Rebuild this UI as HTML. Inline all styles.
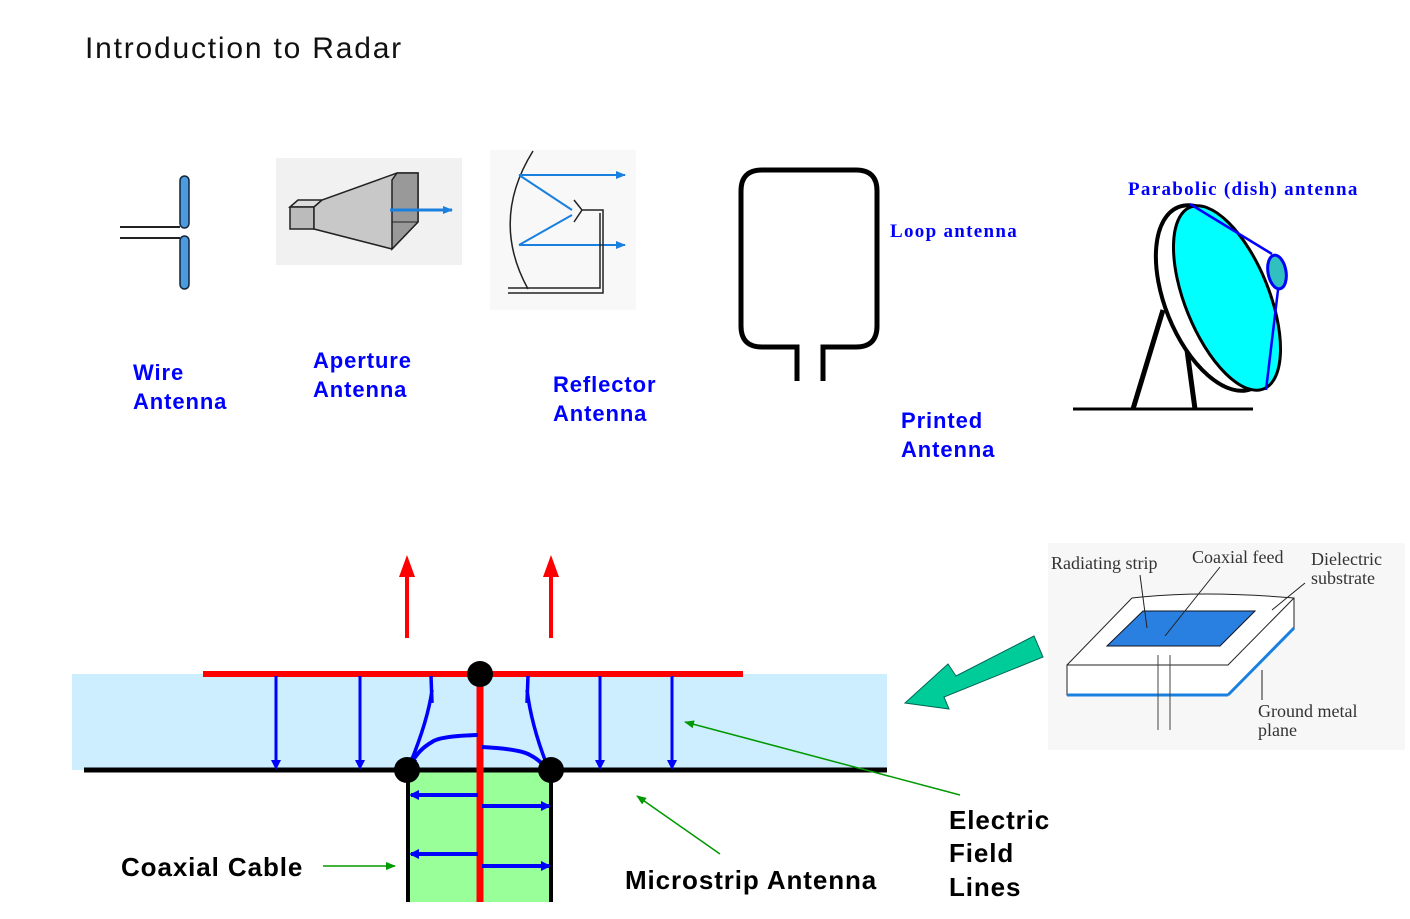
<!DOCTYPE html>
<html><head><meta charset="utf-8"><style>
html,body{margin:0;padding:0;background:#fff}
svg{display:block}
.b{font-family:"Liberation Sans",sans-serif;font-weight:bold}
.s{font-family:"Liberation Serif",serif}
</style></head><body>
<svg width="1410" height="919" viewBox="0 0 1410 919" xmlns="http://www.w3.org/2000/svg">
<defs>
<marker id="bl" markerWidth="8" markerHeight="8" refX="6" refY="4" orient="auto" markerUnits="userSpaceOnUse"><path d="M0,0 L8,4 L0,8 Z" fill="#0000ff"/></marker>
<marker id="bb" markerWidth="10" markerHeight="10" refX="8" refY="5" orient="auto" markerUnits="userSpaceOnUse"><path d="M0,0 L10,5 L0,10 Z" fill="#0000ff"/></marker>
<marker id="gr" markerWidth="10" markerHeight="8" refX="9" refY="4" orient="auto" markerUnits="userSpaceOnUse"><path d="M0,0 L10,4 L0,8 Z" fill="#009900"/></marker>
<marker id="lb" markerWidth="10" markerHeight="8" refX="9" refY="4" orient="auto" markerUnits="userSpaceOnUse"><path d="M0,0 L10,4 L0,8 Z" fill="#1a80e0"/></marker>
</defs>
<text x="85" y="58" font-family="Liberation Sans,sans-serif" font-size="30" letter-spacing="1.8" fill="#111">Introduction to Radar</text>

<!-- wire antenna -->
<line x1="120" y1="227" x2="180" y2="227" stroke="#222" stroke-width="2"/>
<line x1="120" y1="238" x2="180" y2="238" stroke="#222" stroke-width="2"/>
<rect x="180" y="176" width="9" height="52" rx="4.5" fill="#4a9be0" stroke="#123" stroke-width="1.5"/>
<rect x="180" y="236" width="9" height="53" rx="4.5" fill="#4a9be0" stroke="#123" stroke-width="1.5"/>

<!-- aperture -->
<rect x="276" y="158" width="186" height="107" fill="#f1f1f1"/>
<polygon points="290,207 298,200 322,200 314,207" fill="#ddd" stroke="#222" stroke-width="1.5"/>
<rect x="290" y="207" width="24" height="22" fill="#bbb" stroke="#222" stroke-width="1.5"/>
<polygon points="314,207 322,200 397,173 418,173 418,222 392,249 314,229" fill="#c8c8c8" stroke="#222" stroke-width="1.5"/>
<polygon points="397,173 418,173 418,222 392,249 392,180" fill="#999" stroke="#222" stroke-width="1.5"/>
<line x1="392" y1="222" x2="418" y2="222" stroke="#222" stroke-width="1"/>
<line x1="390" y1="210" x2="452" y2="210" stroke="#1a80e0" stroke-width="3" marker-end="url(#lb)"/>

<!-- reflector -->
<rect x="490" y="150" width="146" height="160" fill="#f8f8f8"/>
<path d="M533,151 Q490,220 528,289" fill="none" stroke="#222" stroke-width="1.5"/>
<line x1="519" y1="175" x2="625" y2="175" stroke="#1a80e0" stroke-width="2" marker-end="url(#lb)"/>
<line x1="519" y1="245" x2="625" y2="245" stroke="#1a80e0" stroke-width="2" marker-end="url(#lb)"/>
<line x1="519" y1="175" x2="572" y2="210" stroke="#1a80e0" stroke-width="2"/>
<line x1="519" y1="245" x2="572" y2="215" stroke="#1a80e0" stroke-width="2"/>
<path d="M574,200 L582,210 L574,222 M582,210 L603,210 L603,293 L508,293 M600,213 L600,288 L508,288" fill="none" stroke="#222" stroke-width="1.5"/>

<!-- loop -->
<path d="M797,381 V347 H762 Q741,347 741,326 V191 Q741,170 762,170 H856 Q877,170 877,191 V326 Q877,347 856,347 H823 V381" fill="none" stroke="#000" stroke-width="5"/>
<text x="890" y="237" class="s" font-weight="bold" font-size="19" letter-spacing="1.3" fill="#0000ff">Loop antenna</text>

<!-- dish -->
<text x="1128" y="195" class="s" font-weight="bold" font-size="19" letter-spacing="1.3" fill="#0000ff">Parabolic (dish) antenna</text>
<line x1="1163" y1="310" x2="1133" y2="409" stroke="#000" stroke-width="5"/>
<line x1="1187" y1="350" x2="1195" y2="409" stroke="#000" stroke-width="5"/>
<line x1="1073" y1="409" x2="1253" y2="409" stroke="#000" stroke-width="3"/>
<ellipse cx="1215" cy="298" rx="50" ry="98" transform="rotate(-22 1215 298)" fill="#fff" stroke="#000" stroke-width="4"/>
<ellipse cx="1227" cy="298" rx="42" ry="98" transform="rotate(-22 1227 298)" fill="#00ffff" stroke="#000" stroke-width="3"/>
<path d="M1190,204 L1272,254 M1278,290 L1266,390" stroke="#0000ff" stroke-width="2.5" fill="none"/>
<ellipse cx="1277" cy="272" rx="9" ry="17" transform="rotate(-10 1277 272)" fill="#30c0c0" stroke="#0000ff" stroke-width="3"/>

<!-- labels blue -->
<g class="b" font-size="22" fill="#0000ff" letter-spacing="0.9">
<text x="133" y="380">Wire</text><text x="133" y="409">Antenna</text>
<text x="313" y="368">Aperture</text><text x="313" y="397">Antenna</text>
<text x="553" y="392">Reflector</text><text x="553" y="421">Antenna</text>
<text x="901" y="428">Printed</text><text x="901" y="457">Antenna</text>
</g>

<!-- microstrip cross-section -->
<rect x="72" y="674" width="815" height="96" fill="#cceeff"/>
<rect x="408" y="770" width="143" height="132" fill="#99ff99"/>
<line x1="84" y1="770" x2="887" y2="770" stroke="#000" stroke-width="5"/>
<line x1="408" y1="770" x2="408" y2="902" stroke="#000" stroke-width="4"/>
<line x1="551" y1="770" x2="551" y2="902" stroke="#000" stroke-width="4"/>
<line x1="203" y1="674" x2="743" y2="674" stroke="#ff0000" stroke-width="6"/>
<line x1="480" y1="674" x2="480" y2="902" stroke="#ff0000" stroke-width="7"/>
<g stroke="#0000ff" stroke-width="3" fill="none">
<line x1="276" y1="676" x2="276" y2="768" marker-end="url(#bb)"/>
<line x1="360" y1="676" x2="360" y2="768" marker-end="url(#bb)"/>
<line x1="600" y1="676" x2="600" y2="768" marker-end="url(#bb)"/>
<line x1="672" y1="676" x2="672" y2="768" marker-end="url(#bb)"/>
<path d="M431,676 L432,703 M432,690 Q428,720 410,764" stroke-width="3.5"/>
<path d="M528,676 L527,703 M527,690 Q532,730 551,775" stroke-width="3.5"/>
<path d="M478,735 Q440,736 432,742 Q418,750 411,764" stroke-width="4" marker-end="url(#bl)"/>
<path d="M482,747 Q520,749 530,755 Q540,760 548,770" stroke-width="4" marker-end="url(#bl)"/>
<line x1="478" y1="795" x2="411" y2="795" stroke-width="4" marker-end="url(#bb)"/>
<line x1="482" y1="806" x2="549" y2="806" stroke-width="4" marker-end="url(#bb)"/>
<line x1="478" y1="854" x2="411" y2="854" stroke-width="4" marker-end="url(#bb)"/>
<line x1="482" y1="866" x2="549" y2="866" stroke-width="4" marker-end="url(#bb)"/>
</g>
<path d="M407,638 V575 M551,638 V575" stroke="#ff0000" stroke-width="4"/>
<path d="M399,577 L407,555 L415,577 Z M543,577 L551,555 L559,577 Z" fill="#ff0000"/>
<ellipse cx="480" cy="674" rx="13" ry="13" fill="#000"/>
<ellipse cx="407" cy="770" rx="13" ry="13" fill="#000"/>
<ellipse cx="551" cy="770" rx="13" ry="13" fill="#000"/>

<!-- labels black -->
<g class="b" font-size="26" fill="#000" letter-spacing="0.9">
<text x="121" y="876">Coaxial Cable</text>
<text x="625" y="889">Microstrip Antenna</text>
<text x="949" y="829">Electric</text><text x="949" y="862">Field</text><text x="949" y="896">Lines</text>
</g>
<g stroke="#009900" stroke-width="1.5">
<line x1="323" y1="866" x2="395" y2="866" marker-end="url(#gr)"/>
<line x1="960" y1="795" x2="685" y2="722" marker-end="url(#gr)"/>
<line x1="720" y1="854" x2="637" y2="796" marker-end="url(#gr)"/>
</g>

<!-- teal big arrow -->
<polygon points="1043,657 1034,636 956,676 948,664 905,703 949,709 944,697" fill="#00cc99" stroke="#006655" stroke-width="1"/>

<!-- microstrip picture -->
<rect x="1048" y="543" width="357" height="207" fill="#f7f7f7"/>
<path d="M1067,665 L1132,598 Q1200,590 1294,598 L1294,628 L1228,695 L1067,695 Z" fill="#fff" stroke="#222" stroke-width="1"/>
<path d="M1228,695 L1294,628" stroke="#1a80e0" stroke-width="3"/>
<path d="M1067,695 L1228,695" stroke="#1a80e0" stroke-width="3"/>
<path d="M1067,665 L1228,665 L1294,598" stroke="#222" stroke-width="1" fill="none"/>
<polygon points="1107,646 1143,611 1255,611 1220,646" fill="#2a80e0" stroke="#112" stroke-width="1"/>
<path d="M1158,655 V730 M1170,655 V730" stroke="#444" stroke-width="1"/>
<g stroke="#222" stroke-width="1">
<line x1="1140" y1="575" x2="1147" y2="628"/>
<line x1="1220" y1="567" x2="1165" y2="636"/>
<line x1="1305" y1="583" x2="1272" y2="610"/>
<line x1="1262" y1="700" x2="1262" y2="670"/>
</g>
<g class="s" font-size="18" fill="#333">
<text x="1051" y="569">Radiating strip</text>
<text x="1192" y="563">Coaxial feed</text>
<text x="1311" y="565">Dielectric</text>
<text x="1311" y="584">substrate</text>
<text x="1258" y="717">Ground metal</text>
<text x="1258" y="736">plane</text>
</g>
</svg>
</body></html>
